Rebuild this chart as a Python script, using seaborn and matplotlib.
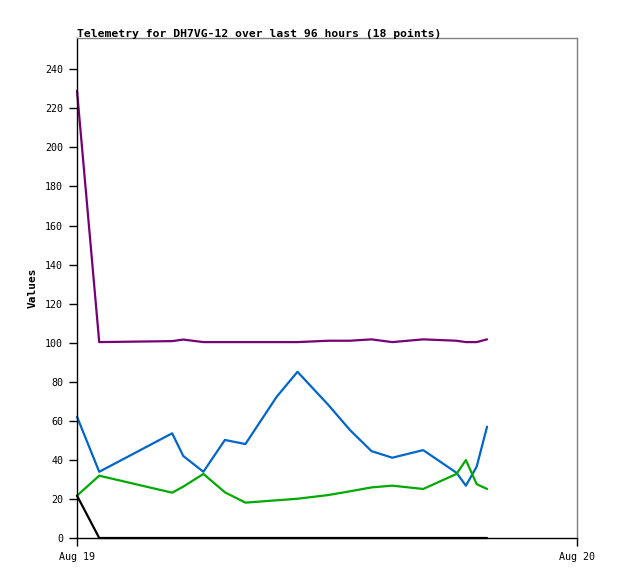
import pandas as pd
import matplotlib
matplotlib.use("Agg")
import matplotlib.pyplot as plt
import matplotlib.dates as mdates
import seaborn as sns

# Sample times (Aug 19) and telemetry channels
times = ["00:00", "01:04", "04:34", "05:06", "06:04", "07:06", "08:05", "09:35", "10:35",
         "12:04", "13:06", "14:08", "15:08", "16:37", "18:13", "18:40", "19:11", "19:41"]
purple = [229, 100.3, 100.8, 101.6, 100.3, 100.3, 100.3, 100.3, 100.3,
          101.0, 101.0, 101.7, 100.3, 101.7, 101.0, 100.3, 100.3, 101.7]
blue = [62.1, 33.9, 53.6, 42.0, 33.9, 50.2, 48.1, 72.3, 85.1,
        68.1, 55.3, 44.5, 41.1, 45.0, 33.4, 26.8, 36.5, 57.0]
green = [21.7, 31.9, 23.2, 26.3, 32.8, 23.4, 18.1, 19.3, 20.1,
         22.0, 23.9, 25.9, 26.8, 25.1, 32.8, 39.9, 27.6, 25.1]
black = [21.7, 0, 0, 0, 0, 0, 0, 0, 0, 0, 0, 0, 0, 0, 0, 0, 0, 0]

series_names = ["purple", "blue", "green", "black"]
colors = {"purple": "#770077", "blue": "#0066cc", "green": "#00aa00", "black": "#000000"}

stamps = pd.to_datetime(["2024-08-19 " + t for t in times])
frames = []
for name, vals in zip(series_names, [purple, blue, green, black]):
    frames.append(pd.DataFrame({"time": stamps, "value": vals, "series": name}))
df = pd.concat(frames, ignore_index=True)

sns.set_style("white")
plt.rcParams["font.family"] = ["DejaVu Sans Mono", "DejaVu Sans"]
plt.rcParams["text.color"] = "black"
plt.rcParams["axes.labelcolor"] = "black"
plt.rcParams["xtick.color"] = "black"
plt.rcParams["ytick.color"] = "black"

fig = plt.figure(figsize=(6.18, 5.79), dpi=100)
ax = fig.add_axes([77 / 618, 41 / 579, 500 / 618, 500 / 579])

sns.lineplot(data=df, x="time", y="value", hue="series", palette=colors,
             hue_order=series_names, legend=False, linewidth=1.6, ax=ax)
for line in ax.get_lines():
    line.set_clip_on(False)

ax.set_xlim(pd.Timestamp("2024-08-19"), pd.Timestamp("2024-08-20"))
ax.set_xticks([pd.Timestamp("2024-08-19"), pd.Timestamp("2024-08-20")])
ax.xaxis.set_major_formatter(mdates.DateFormatter("%b %d"))
ax.set_ylim(0, 256)
ax.set_yticks(range(0, 241, 20))

ax.tick_params(axis="both", direction="out", length=6, width=1, color="black",
               labelcolor="black", labelsize=7.2, pad=4, bottom=True, left=True)
for s in ["left", "bottom"]:
    ax.spines[s].set_color("black")
    ax.spines[s].set_linewidth(1)
for s in ["top", "right"]:
    ax.spines[s].set_color("#808080")
    ax.spines[s].set_linewidth(1)

ax.set_xlabel("")
ax.set_ylabel("Values", fontsize=8, fontweight="bold", labelpad=5, color="black")
ax.set_title("Telemetry for DH7VG-12 over last 96 hours (18 points)",
             loc="left", fontsize=8.2, fontweight="bold", pad=1, color="black")

fig.savefig("out.png", dpi=100)
